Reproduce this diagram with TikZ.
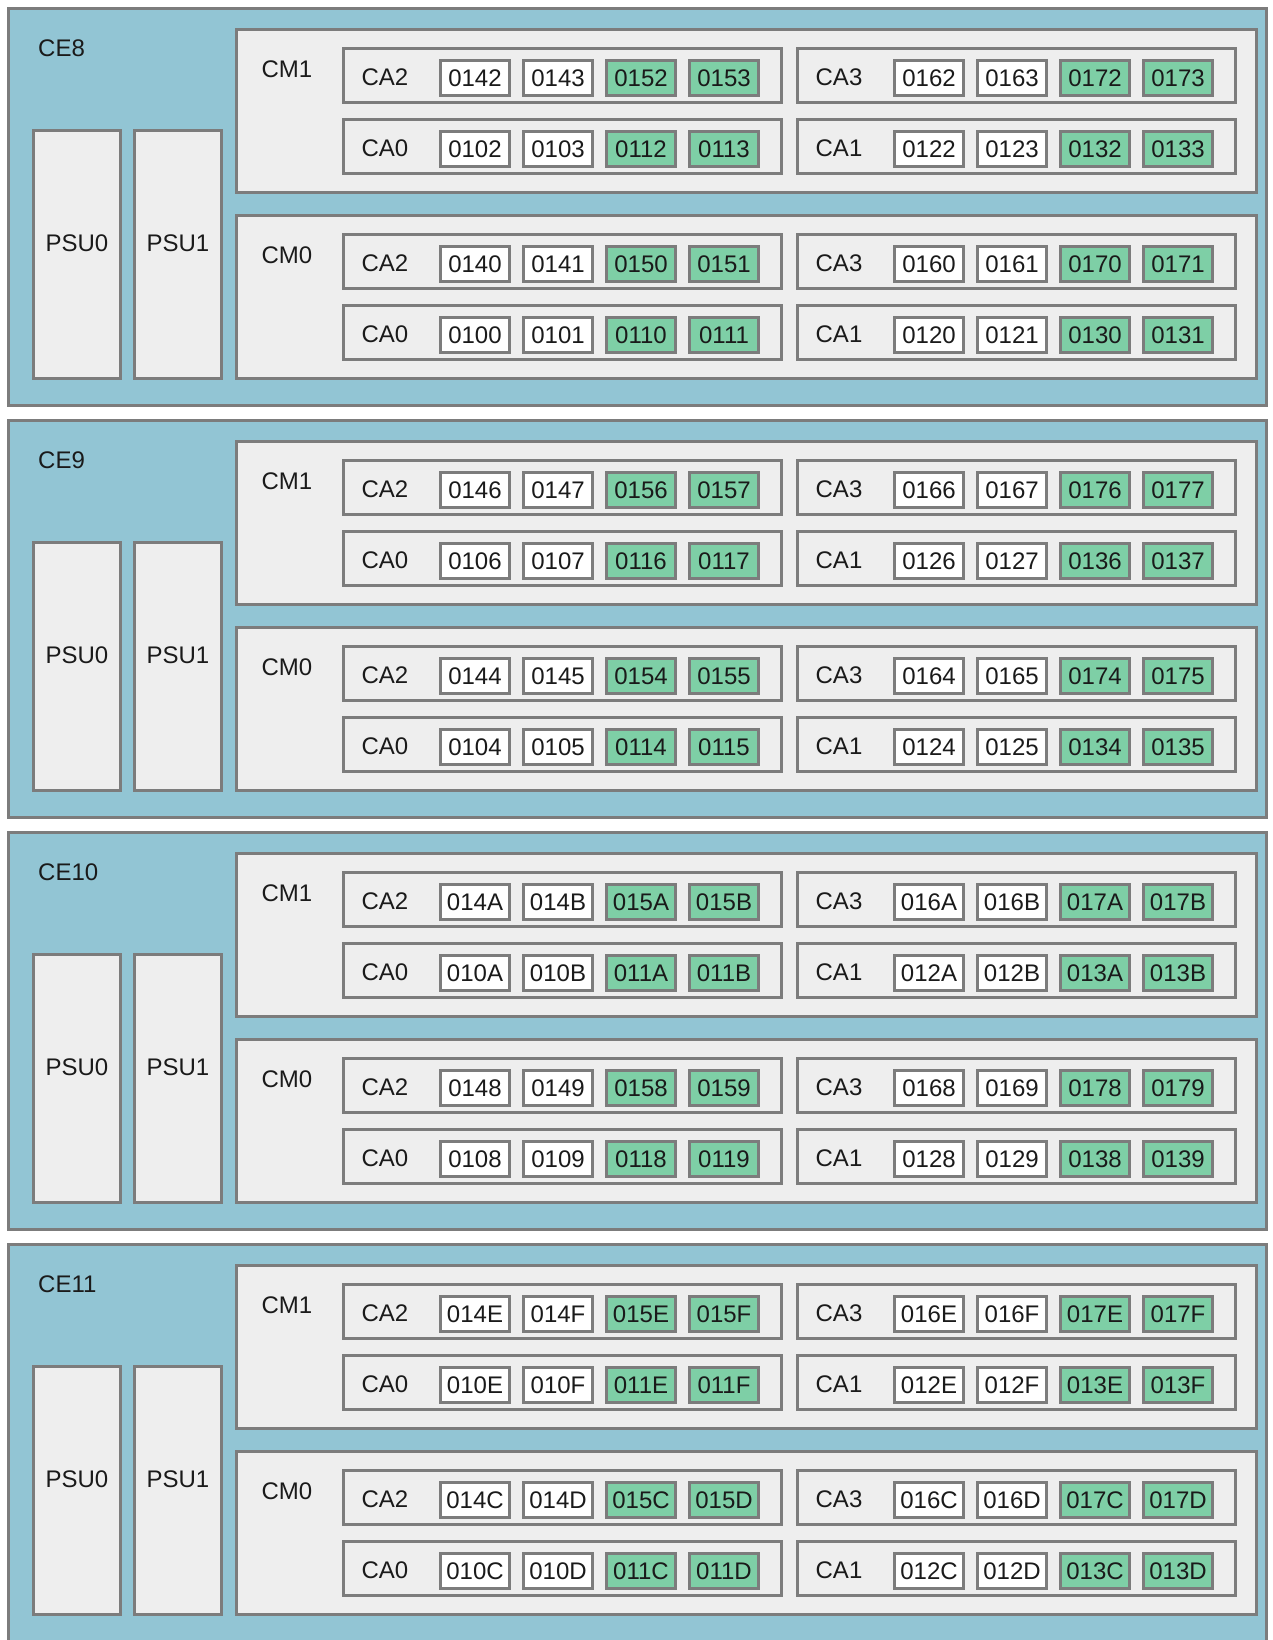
\documentclass[tikz,border=0pt]{standalone}
\usepackage{fontspec}
\setmainfont{Liberation Sans}
\usetikzlibrary{positioning}
\definecolor{ceblue}{HTML}{92C5D4}
\definecolor{boardgray}{HTML}{EEEEEE}
\definecolor{framegray}{HTML}{7C7C7C}
\definecolor{slotgreen}{HTML}{7ECFA6}
\definecolor{inkblack}{HTML}{1A1A1A}

\tikzset{
  cebox/.style={fill=ceblue, draw=framegray, line width=3pt},
  board/.style={fill=boardgray, draw=framegray, line width=3pt},
  cabox/.style={draw=framegray, line width=3pt},
  tag/.style={text=inkblack, inner sep=0pt},
  slot/.style={draw=framegray, line width=3pt, fill=white, text=inkblack,
    minimum width=69pt, minimum height=35pt, inner sep=0pt},
  slotg/.style={slot, fill=slotgreen},
}

\begin{document}
\begin{tikzpicture}[x=1pt, y=-1pt, font=\fontsize{24}{28}\selectfont]
  \useasboundingbox (0,0) rectangle (1272,1640);
  \fill[white] (0,0) rectangle (1272,1640);

  % one CE shelf per pass, low digits of CM0 / CM1
  \foreach \ce/\lA/\lB/\hA/\hB [count=\k from 0] in {8/0/1/2/3, 9/4/5/6/7, 10/8/9/A/B, 11/C/D/E/F}{
    \begin{scope}[shift={(0,7+412*\k)}]
      \draw[cebox] (8.5,1.5) rectangle (1266.5,398.5);
      \node[tag, anchor=west] (ce\ce) at (38,41) {CE\ce};

      \draw[board] (33.5,123.5) rectangle (120.5,371.5);
      \node[tag] (psu0-\ce) at (77,236) {PSU0};
      \draw[board] (134.5,123.5) rectangle (221.5,371.5);
      \node[tag] (psu1-\ce) at (178,236) {PSU1};

      \foreach \cm/\lo/\hi/\cmy in {1/\hA/\hB/21, 0/\lA/\lB/207}{
        \draw[board] (236.5,\cmy+1.5) rectangle (1256.5,\cmy+164.5);
        \node[tag] (cm\cm-\ce) at (287,\cmy+41) {CM\cm};
        % CA rows: left column CA2/CA0, right column CA3/CA1
        \foreach \ca/\cx/\ry/\w/\g in {2/342/19/4/5, 0/342/90/0/1, 3/796/19/6/7, 1/796/90/2/3}{
          \draw[cabox] (\cx+1.5,\cmy+\ry+1.5) rectangle (\cx+439.5,\cmy+\ry+55.5);
          \node[tag] (ca\ca-\cm-\ce) at (\cx+43,\cmy+\ry+30) {CA\ca};
          \foreach \st/\lab [count=\i from 0] in {slot/01\w\lo, slot/01\w\hi, slotg/01\g\lo, slotg/01\g\hi}
            \node[\st] (s\lab) at (\cx+133+83*\i,\cmy+\ry+31) {\lab};
        }
      }
    \end{scope}
  }
\end{tikzpicture}
\end{document}
